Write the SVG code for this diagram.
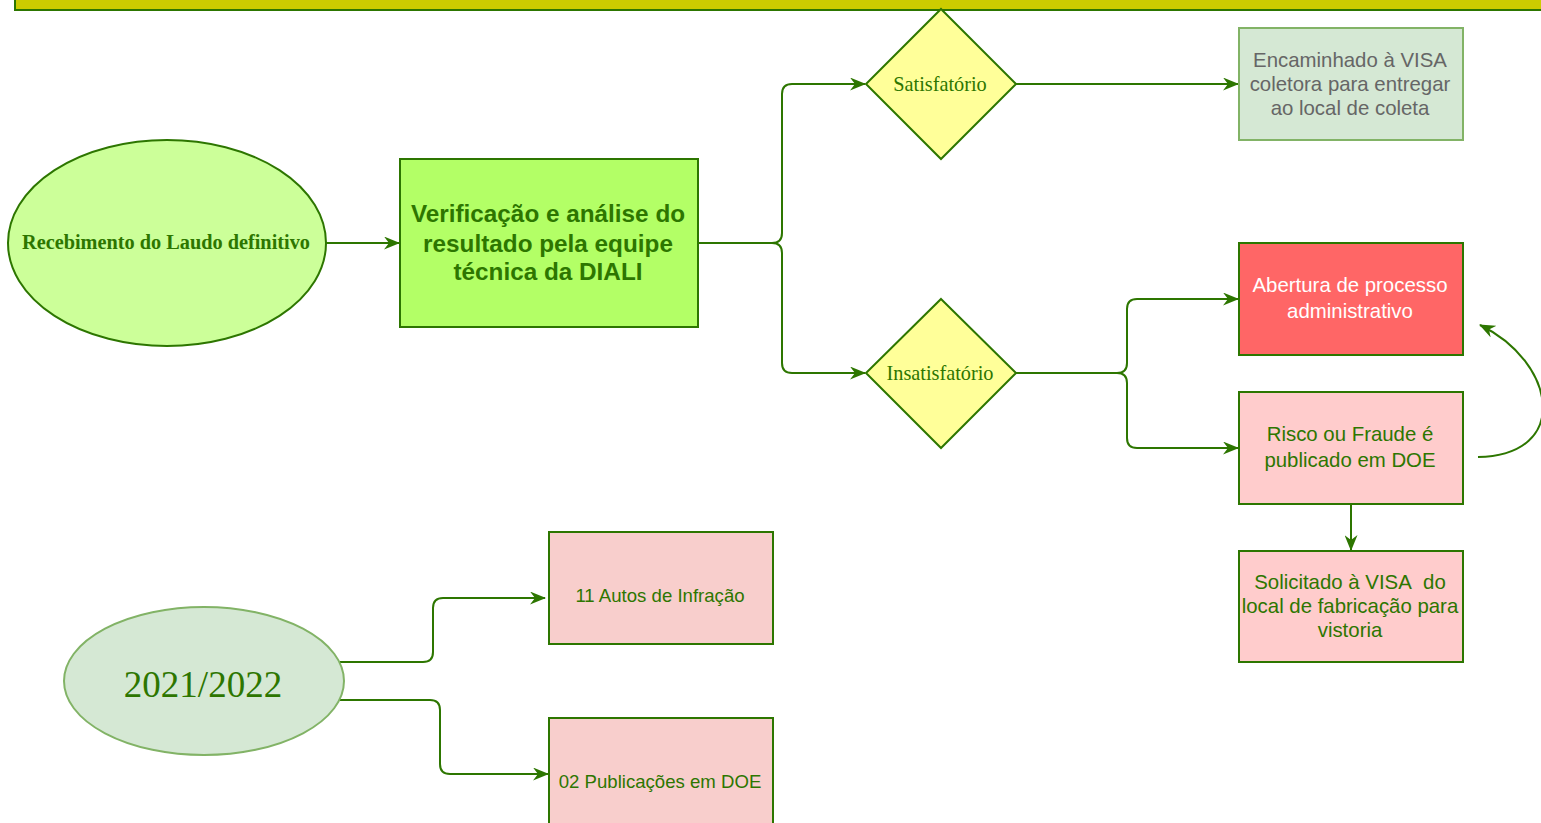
<svg xmlns="http://www.w3.org/2000/svg" width="1541" height="823" viewBox="0 0 1541 823">
<defs>
<marker id="arr" viewBox="0 0 16 13" refX="15" refY="6.5" markerWidth="16" markerHeight="13" markerUnits="userSpaceOnUse" orient="auto">
<path d="M0,0 L16,6.5 L0,13 L5,6.5 Z" fill="#2D7600"/>
</marker>
<style>
.edge{fill:none;stroke:#2D7600;stroke-width:2}
.sans{font-family:"Liberation Sans",Arial,sans-serif}
.serif{font-family:"Liberation Serif","Times New Roman",serif}
.g{fill:#2D7600}
</style>
</defs>
<rect x="15" y="-10" width="1540" height="20" fill="#CCCC00" stroke="#2D7600" stroke-width="2"/>
<g id="connectors">
<path class="edge" d="M326,243 L399,243" marker-end="url(#arr)"/>
<path class="edge" d="M698,243 L772,243 Q782,243 782,233 L782,94 Q782,84 792,84 L865,84" marker-end="url(#arr)"/>
<path class="edge" d="M698,243 L772,243 Q782,243 782,253 L782,363 Q782,373 792,373 L865,373" marker-end="url(#arr)"/>
<path class="edge" d="M1016,84 L1238,84" marker-end="url(#arr)"/>
<path class="edge" d="M1016,373 L1117,373 Q1127,373 1127,363 L1127,309 Q1127,299 1137,299 L1238,299" marker-end="url(#arr)"/>
<path class="edge" d="M1016,373 L1117,373 Q1127,373 1127,383 L1127,438 Q1127,448 1137,448 L1238,448" marker-end="url(#arr)"/>
<path class="edge" d="M1351,504 L1351,550" marker-end="url(#arr)"/>
<path class="edge" d="M1478,457 C1572,455 1556,362 1480,325" marker-end="url(#arr)"/>
<path class="edge" d="M340,662 L423,662 Q433,662 433,652 L433,608 Q433,598 443,598 L545,598" marker-end="url(#arr)"/>
<path class="edge" d="M340,700 L430,700 Q440,700 440,710 L440,764 Q440,774 450,774 L548,774" marker-end="url(#arr)"/>
</g>
<g id="n-recebimento">
<ellipse cx="167" cy="243" rx="159" ry="103" fill="#CCFF99" stroke="#2D7600" stroke-width="2"/>
<text x="166" y="249" text-anchor="middle" class="serif g" font-size="20.3" font-weight="bold">Recebimento do Laudo definitivo</text>
</g>
<g id="n-verificacao">
<rect x="400" y="159" width="298" height="168" fill="#B3FF66" stroke="#2D7600" stroke-width="2"/>
<text text-anchor="middle" class="sans g" font-size="24.3" font-weight="bold"><tspan x="548" y="222">Verificação e análise do</tspan><tspan x="548" y="252">resultado pela equipe</tspan><tspan x="548" y="280">técnica da DIALI</tspan></text>
</g>
<g id="n-satisfatorio">
<polygon points="941,9 1016,84 941,159 866,84" fill="#FFFF99" stroke="#2D7600" stroke-width="2"/>
<text x="940" y="91" text-anchor="middle" class="serif g" font-size="20.3">Satisfatório</text>
</g>
<g id="n-insatisfatorio">
<polygon points="941,299 1016,373 941,448 866,373" fill="#FFFF99" stroke="#2D7600" stroke-width="2"/>
<text x="940" y="380" text-anchor="middle" class="serif g" font-size="20.3">Insatisfatório</text>
</g>
<g id="n-encaminhado">
<rect x="1239" y="28" width="224" height="112" fill="#D5E8D4" stroke="#82B366" stroke-width="2"/>
<text text-anchor="middle" class="sans" font-size="20.4" fill="#666666"><tspan x="1350" y="67">Encaminhado à VISA</tspan><tspan x="1350" y="91">coletora para entregar</tspan><tspan x="1350" y="115">ao local de coleta</tspan></text>
</g>
<g id="n-abertura">
<rect x="1239" y="243" width="224" height="112" fill="#FF6666" stroke="#2D7600" stroke-width="2"/>
<text text-anchor="middle" class="sans" font-size="20.4" fill="#FFFFFF"><tspan x="1350" y="292">Abertura de processo</tspan><tspan x="1350" y="318">administrativo</tspan></text>
</g>
<g id="n-risco">
<rect x="1239" y="392" width="224" height="112" fill="#FFCCCC" stroke="#2D7600" stroke-width="2"/>
<text text-anchor="middle" class="sans g" font-size="20.4"><tspan x="1350" y="441">Risco ou Fraude é</tspan><tspan x="1350" y="467">publicado em DOE</tspan></text>
</g>
<g id="n-solicitado">
<rect x="1239" y="551" width="224" height="111" fill="#FFCCCC" stroke="#2D7600" stroke-width="2"/>
<text text-anchor="middle" class="sans g" font-size="20.4"><tspan x="1350" y="589">Solicitado à VISA&#160; do</tspan><tspan x="1350" y="613">local de fabricação para</tspan><tspan x="1350" y="637">vistoria</tspan></text>
</g>
<g id="n-2021">
<ellipse cx="204" cy="681" rx="140" ry="74" fill="#D5E8D4" stroke="#82B366" stroke-width="2"/>
<text x="203" y="697" text-anchor="middle" class="serif g" font-size="37">2021/2022</text>
</g>
<g id="n-autos">
<rect x="549" y="532" width="224" height="112" fill="#F8CECC" stroke="#2D7600" stroke-width="2"/>
<text x="660" y="602" text-anchor="middle" class="sans g" font-size="18.6">11 Autos de Infração</text>
</g>
<g id="n-publicacoes">
<rect x="549" y="718" width="224" height="112" fill="#F8CECC" stroke="#2D7600" stroke-width="2"/>
<text x="660" y="788" text-anchor="middle" class="sans g" font-size="18.6">02 Publicações em DOE</text>
</g>
</svg>
